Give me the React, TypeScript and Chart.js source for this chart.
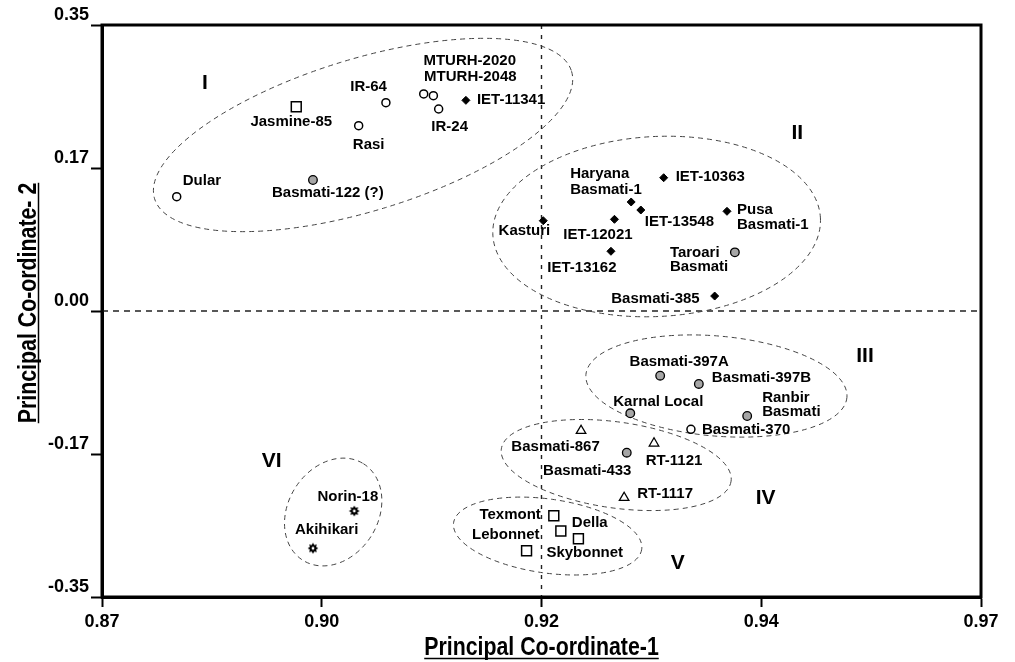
import React, { useEffect, useRef } from 'react';
import { Chart, registerables } from 'chart.js';

Chart.register(...registerables);

// ---------- Axis text ----------
const xTickLabels = ['0.87', '0.90', '0.92', '0.94', '0.97'];
const yTickLabels = ['-0.35', '-0.17', '0.00', '0.17', '0.35'];
const xAxisTitle = 'Principal Co-ordinate-1';
const yAxisTitle = 'Principal Co-ordinate- 2';

// ---------- Series (one per marker type) ----------
const openCircleNames = ['Dular', 'IR-64', 'Rasi', 'MTURH-2020', 'MTURH-2048', 'IR-24', 'Basmati-370'];
const openCirclePC1 = [0.8785, 0.9023, 0.8992, 0.9066, 0.9077, 0.9083, 0.937];
const openCirclePC2 = [0.1399, 0.2549, 0.2268, 0.2656, 0.2635, 0.2472, -0.1448];

const grayCircleNames = ['Basmati-122 (?)', 'Taroari Basmati', 'Basmati-397A', 'Basmati-397B', 'Karnal Local', 'Ranbir Basmati', 'Basmati-433'];
const grayCirclePC1 = [0.894, 0.942, 0.9335, 0.9379, 0.9301, 0.9434, 0.9297];
const grayCirclePC2 = [0.1603, 0.0718, -0.0792, -0.0893, -0.1252, -0.1285, -0.1734];

const diamondNames = ['IET-11341', 'Haryana Basmati-1', 'IET-10363', 'IET-13548', 'Pusa Basmati-1', 'Kasturi', 'IET-12021', 'IET-13162', 'Basmati-385'];
const diamondPC1 = [0.9114, 0.9302, 0.9339, 0.9313, 0.9411, 0.9202, 0.9283, 0.9279, 0.9397];
const diamondPC2 = [0.2578, 0.1334, 0.1631, 0.1236, 0.122, 0.1105, 0.1122, 0.0731, 0.0183];

const squareNames = ['Jasmine-85', 'Texmont', 'Della', 'Skybonnet', 'Lebonnet'];
const squarePC1 = [0.8921, 0.9214, 0.9222, 0.9242, 0.9183];
const squarePC2 = [0.25, -0.2505, -0.2692, -0.2787, -0.2934];

const triangleNames = ['Basmati-867', 'RT-1121', 'RT-1117'];
const trianglePC1 = [0.9245, 0.9328, 0.9294];
const trianglePC2 = [-0.1465, -0.1619, -0.2285];

const gearNames = ['Norin-18', 'Akihikari'];
const gearPC1 = [0.8987, 0.894];
const gearPC2 = [-0.2448, -0.2904];

// ---------- Clusters ----------
const clusterNames = ['I', 'II', 'III', 'IV', 'V', 'VI'];
const clusterLabelPC1 = [0.8817, 0.9491, 0.9568, 0.9455, 0.9355, 0.8893];
const clusterLabelPC2 = [0.279, 0.2178, -0.0551, -0.2289, -0.3084, -0.1836];
const ellipseCenterPC1 = [0.8997, 0.9331, 0.9399, 0.9285, 0.9207, 0.8963];
const ellipseCenterPC2 = [0.2154, 0.1034, -0.0918, -0.1885, -0.2754, -0.246];

const referencePC1 = 0.92;
const referencePC2 = 0.0;

// ---------- Styles (pixel sizes / label placement) ----------
const ellipseShapes = [
  { rx: 218, ry: 76, rot: -17 },
  { rx: 164, ry: 90, rot: -3 },
  { rx: 131, ry: 50, rot: 5 },
  { rx: 116, ry: 43, rot: 8 },
  { rx: 95, ry: 37, rot: 8 },
  { rx: 57, ry: 45, rot: -58 },
];

type Lay = { dx: number; dy: number; align: CanvasTextAlign; lines?: string[]; gap?: number };
const labelLayout: Record<string, Lay> = {
  'Dular': { dx: 6, dy: -16, align: 'left' },
  'IR-64': { dx: 1, dy: -16, align: 'right' },
  'Rasi': { dx: 10, dy: 19, align: 'center' },
  'MTURH-2020': { dx: 46, dy: -33, align: 'center' },
  'MTURH-2048': { dx: 37, dy: -18.5, align: 'center' },
  'IR-24': { dx: 11, dy: 18, align: 'center' },
  'Basmati-370': { dx: 11, dy: 1, align: 'left' },
  'Basmati-122 (?)': { dx: -41, dy: 13, align: 'left' },
  'Taroari Basmati': { dx: -65, dy: 1, align: 'left', lines: ['Taroari', 'Basmati'], gap: 14 },
  'Basmati-397A': { dx: 19, dy: -14, align: 'center' },
  'Basmati-397B': { dx: 13, dy: -6, align: 'left' },
  'Karnal Local': { dx: -17, dy: -11.5, align: 'left' },
  'Ranbir Basmati': { dx: 15, dy: -18, align: 'left', lines: ['Ranbir', 'Basmati'], gap: 14 },
  'Basmati-433': { dx: -39.5, dy: 18, align: 'center' },
  'IET-11341': { dx: 11, dy: 0, align: 'left' },
  'Haryana Basmati-1': { dx: -61, dy: -28, align: 'left', lines: ['Haryana', 'Basmati-1'], gap: 16 },
  'IET-10363': { dx: 12, dy: -1, align: 'left' },
  'IET-13548': { dx: 4, dy: 12, align: 'left' },
  'Pusa Basmati-1': { dx: 10, dy: -1, align: 'left', lines: ['Pusa', 'Basmati-1'], gap: 14.5 },
  'Kasturi': { dx: 7, dy: 10, align: 'right' },
  'IET-12021': { dx: -16.5, dy: 16, align: 'center' },
  'IET-13162': { dx: -29, dy: 16.5, align: 'center' },
  'Basmati-385': { dx: -15, dy: 3, align: 'right' },
  'Jasmine-85': { dx: -5, dy: 15, align: 'center' },
  'Texmont': { dx: -13, dy: -1, align: 'right' },
  'Della': { dx: 11, dy: -8, align: 'left' },
  'Skybonnet': { dx: -32, dy: 14, align: 'left' },
  'Lebonnet': { dx: 13, dy: -16, align: 'right' },
  'Basmati-867': { dx: -25.5, dy: 16, align: 'center' },
  'RT-1121': { dx: 20, dy: 18, align: 'center' },
  'RT-1117': { dx: 13, dy: -4, align: 'left' },
  'Norin-18': { dx: 24, dy: -14, align: 'right' },
  'Akihikari': { dx: -18, dy: -18, align: 'left' },
};

const SANS = '"Liberation Sans", Arial, sans-serif';
const NARROW = '"Liberation Sans Narrow", "Arial Narrow", "Liberation Sans", sans-serif';

function makeGear(): HTMLCanvasElement {
  const c = document.createElement('canvas');
  c.width = 12;
  c.height = 12;
  const g = c.getContext('2d')!;
  g.translate(6, 6);
  g.fillStyle = '#000';
  g.beginPath();
  const n = 8;
  for (let i = 0; i < n * 2; i++) {
    const r = i % 2 === 0 ? 5.4 : 3.4;
    const a = (i * Math.PI) / n;
    g.lineTo(r * Math.cos(a), r * Math.sin(a));
  }
  g.closePath();
  g.fill();
  g.fillStyle = '#fff';
  g.beginPath();
  g.arc(0, 0, 1.4, 0, Math.PI * 2);
  g.fill();
  return c;
}

const toPoints = (xs: number[], ys: number[]) => xs.map((x, i) => ({ x, y: ys[i] }));

// draw text condensed horizontally when no narrow face is installed
function narrowFactor(ctx: CanvasRenderingContext2D): number {
  ctx.save();
  ctx.font = `bold 26px ${NARROW}`;
  const a = ctx.measureText(xAxisTitle).width;
  ctx.font = `bold 26px ${SANS}`;
  const b = ctx.measureText(xAxisTitle).width;
  ctx.restore();
  return Math.abs(a - b) < 1 ? 0.82 : 1;
}

const decorPlugin = {
  id: 'decor',
  beforeDatasetsDraw(chart: any) {
    const { ctx, chartArea, scales } = chart;
    const xs = scales.x;
    const ys = scales.y;
    ctx.save();
    ctx.strokeStyle = '#222';
    ctx.lineWidth = 1.4;
    ctx.setLineDash([4, 6]);
    const rx = xs.getPixelForValue(referencePC1);
    ctx.beginPath();
    ctx.moveTo(rx, chartArea.top);
    ctx.lineTo(rx, chartArea.bottom);
    ctx.stroke();
    ctx.setLineDash([6, 5]);
    const ry = ys.getPixelForValue(referencePC2);
    ctx.beginPath();
    ctx.moveTo(chartArea.left, ry);
    ctx.lineTo(chartArea.right, ry);
    ctx.stroke();
    ctx.strokeStyle = '#444';
    ctx.lineWidth = 1;
    ctx.setLineDash([5, 4]);
    ellipseCenterPC1.forEach((cx, i) => {
      const s = ellipseShapes[i];
      ctx.beginPath();
      ctx.ellipse(xs.getPixelForValue(cx), ys.getPixelForValue(ellipseCenterPC2[i]), s.rx, s.ry, (s.rot * Math.PI) / 180, 0, Math.PI * 2);
      ctx.stroke();
    });
    ctx.setLineDash([]);
    ctx.fillStyle = '#000';
    ctx.font = `bold 21px ${SANS}`;
    ctx.textAlign = 'center';
    ctx.textBaseline = 'middle';
    clusterNames.forEach((n, i) => {
      ctx.fillText(n, xs.getPixelForValue(clusterLabelPC1[i]), ys.getPixelForValue(clusterLabelPC2[i]));
    });
    ctx.restore();
  },
  afterDatasetsDraw(chart: any) {
    const { ctx } = chart;
    ctx.save();
    ctx.fillStyle = '#000';
    ctx.font = `bold 15px ${SANS}`;
    ctx.textBaseline = 'middle';
    chart.data.datasets.forEach((ds: any, di: number) => {
      const meta = chart.getDatasetMeta(di);
      meta.data.forEach((el: any, i: number) => {
        const name = ds.names[i];
        const lay = labelLayout[name];
        if (!lay) return;
        ctx.textAlign = lay.align;
        const lines = lay.lines || [name];
        lines.forEach((t: string, li: number) => {
          ctx.fillText(t, el.x + lay.dx, el.y + lay.dy + li * (lay.gap || 15));
        });
      });
    });
    ctx.restore();
  },
  afterDraw(chart: any) {
    const { ctx, chartArea } = chart;
    const k = narrowFactor(ctx);
    ctx.save();
    ctx.strokeStyle = '#000';
    ctx.lineWidth = 3;
    ctx.strokeRect(chartArea.left, chartArea.top, chartArea.right - chartArea.left, chartArea.bottom - chartArea.top);
    ctx.font = `bold 26px ${NARROW}`;
    ctx.fillStyle = '#000';
    ctx.textAlign = 'center';
    ctx.textBaseline = 'alphabetic';
    ctx.lineWidth = 1.5;
    const cx = (chartArea.left + chartArea.right) / 2;
    // x title
    ctx.save();
    ctx.translate(cx, 655);
    const tw = ctx.measureText(xAxisTitle).width * k;
    ctx.save();
    ctx.scale(k, 1);
    ctx.fillText(xAxisTitle, 0, 0);
    ctx.restore();
    ctx.beginPath();
    ctx.moveTo(-tw / 2, 3.5);
    ctx.lineTo(tw / 2, 3.5);
    ctx.stroke();
    ctx.restore();
    // y title
    ctx.save();
    ctx.translate(36, 303);
    ctx.rotate(-Math.PI / 2);
    const th = ctx.measureText(yAxisTitle).width * k;
    ctx.save();
    ctx.scale(k, 1);
    ctx.fillText(yAxisTitle, 0, 0);
    ctx.restore();
    ctx.beginPath();
    ctx.moveTo(-th / 2, 2.5);
    ctx.lineTo(th / 2, 2.5);
    ctx.stroke();
    ctx.restore();
    ctx.restore();
  },
};

export default function App() {
  const ref = useRef<HTMLCanvasElement | null>(null);
  useEffect(() => {
    if (!ref.current) return;
    const gear = makeGear();
    const chart = new Chart(ref.current, {
      type: 'scatter',
      data: {
        datasets: [
          { label: 'open', names: openCircleNames, data: toPoints(openCirclePC1, openCirclePC2), pointStyle: 'circle', pointRadius: 4, backgroundColor: '#fff', borderColor: '#000', borderWidth: 1.5 } as any,
          { label: 'gray', names: grayCircleNames, data: toPoints(grayCirclePC1, grayCirclePC2), pointStyle: 'circle', pointRadius: 4.3, backgroundColor: '#a6a6a6', borderColor: '#000', borderWidth: 1.3 } as any,
          { label: 'diamond', names: diamondNames, data: toPoints(diamondPC1, diamondPC2), pointStyle: 'rectRot', pointRadius: 4, backgroundColor: '#000', borderColor: '#000', borderWidth: 1 } as any,
          { label: 'square', names: squareNames, data: toPoints(squarePC1, squarePC2), pointStyle: 'rect', pointRadius: 7, backgroundColor: '#fff', borderColor: '#000', borderWidth: 1.5 } as any,
          { label: 'triangle', names: triangleNames, data: toPoints(trianglePC1, trianglePC2), pointStyle: 'triangle', pointRadius: 5.5, backgroundColor: '#fff', borderColor: '#000', borderWidth: 1.3 } as any,
          { label: 'gear', names: gearNames, data: toPoints(gearPC1, gearPC2), pointStyle: gear, pointRadius: 6, backgroundColor: '#000', borderColor: '#000' } as any,
        ],
      },
      options: {
        animation: false,
        responsive: false,
        layout: { padding: { top: 25, right: 34, left: 0, bottom: 0 } },
        plugins: { legend: { display: false }, tooltip: { enabled: false } },
        scales: {
          x: {
            type: 'linear',
            min: 0.87,
            max: 0.97,
            afterFit: (s: any) => { s.height = 65; },
            ticks: {
              stepSize: 0.025,
              color: '#000',
              padding: 4,
              font: { family: SANS, size: 18, weight: 'bold' },
              callback: (_v: any, i: number) => xTickLabels[i] ?? '',
              maxRotation: 0,
            },
            grid: { drawOnChartArea: false, drawTicks: true, tickLength: 10, tickColor: '#000', tickWidth: 2, color: '#000' },
            border: { display: true, color: '#000', width: 3 },
          },
          y: {
            type: 'linear',
            min: -0.35,
            max: 0.35,
            afterFit: (s: any) => { s.width = 102; },
            ticks: {
              stepSize: 0.175,
              color: '#000',
              padding: 2,
              labelOffset: -10,
              font: { family: SANS, size: 18, weight: 'bold' },
              callback: (_v: any, i: number) => yTickLabels[i] ?? '',
            },
            grid: { drawOnChartArea: false, drawTicks: true, tickLength: 11, tickColor: '#000', tickWidth: 2, color: '#000' },
            border: { display: true, color: '#000', width: 3 },
          },
        },
      } as any,
      plugins: [decorPlugin],
    });
    return () => chart.destroy();
  }, []);
  return (
    <div style={{ position: 'absolute', left: 0, top: 0, width: 1015, height: 662, background: '#fff' }}>
      <canvas ref={ref} width={1015} height={662} style={{ display: 'block' }} />
    </div>
  );
}
